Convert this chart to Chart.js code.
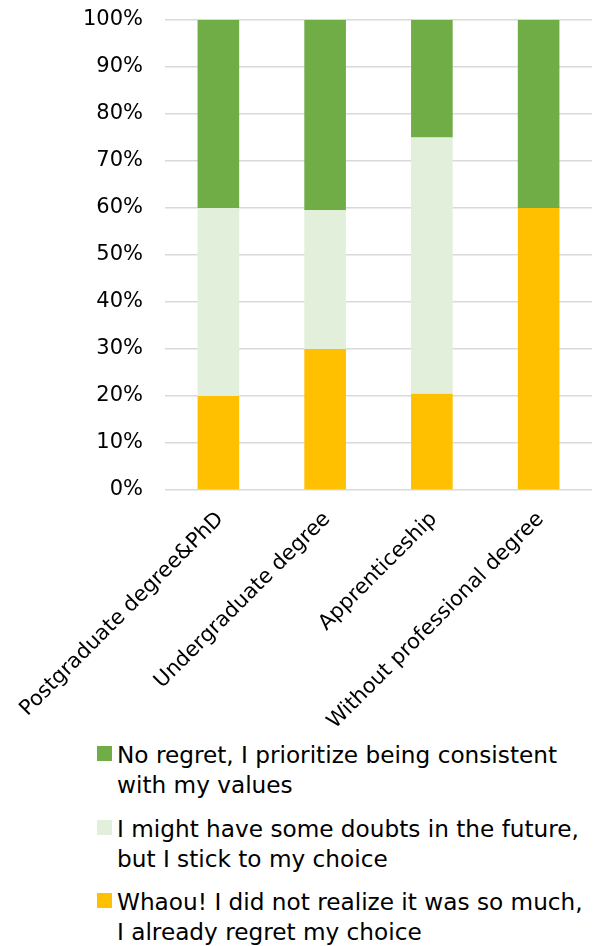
<!DOCTYPE html>
<html>
<head>
<meta charset="utf-8">
<script src="https://cdn.jsdelivr.net/npm/chart.js@4"></script>
<style>
  body { margin: 0; background: #fff; }
  #wrap { position: relative; width: 603px; height: 730px; }
  #legend {
    padding: 10px 0 0 97px;
    font-family: 'DejaVu Sans', sans-serif;
    font-size: 23.2px;
    line-height: 30px;
    color: #000;
  }
  .item { display: flex; align-items: flex-start; margin-bottom: 13.5px; white-space: nowrap; }
  .box { width: 15px; height: 15px; margin: 6px 5px 0 0; flex: none; }
</style>
</head>
<body>
<div id="wrap"><canvas id="regretChart"></canvas></div>
<div id="legend"></div>
<script>
    const categories = ['Postgraduate degree&PhD', 'Undergraduate degree', 'Apprenticeship', 'Without professional degree'];

    // stacked bottom to top
    const regretValues = [20, 30, 20.5, 60];
    const doubtValues = [40, 29.5, 54.5, 0];
    const noRegretValues = [40, 40.5, 25, 40];

    const regretLabel = ['Whaou! I did not realize it was so much,', 'I already regret my choice'];
    const doubtLabel = ['I might have some doubts in the future,', 'but I stick to my choice'];
    const noRegretLabel = ['No regret, I prioritize being consistent', 'with my values'];

    const yTicks = [0, 10, 20, 30, 40, 50, 60, 70, 80, 90, 100];

    const font = { family: 'DejaVu Sans', size: 21 };

    const datasets = [
        { label: regretLabel, data: regretValues, backgroundColor: '#ffc000' },
        { label: doubtLabel, data: doubtValues, backgroundColor: '#e2efda' },
        { label: noRegretLabel, data: noRegretValues, backgroundColor: '#70ad47' }
    ];

    const ctx = document.getElementById('regretChart').getContext('2d');
    const regretChart = new Chart(ctx, {
        type: 'bar',
        data: {
            labels: categories,
            datasets: datasets.map(d => ({
                label: d.label.join(' '),
                data: d.data,
                backgroundColor: d.backgroundColor,
                barPercentage: 0.39,
                categoryPercentage: 1,
                borderWidth: 0
            }))
        },
        options: {
            responsive: true,
            maintainAspectRatio: false,
            animation: false,
            layout: { padding: { top: 20, right: 11, left: 0, bottom: 0 } },
            scales: {
                x: {
                    stacked: true,
                    grid: { display: false },
                    border: { display: false },
                    afterFit: function(scale) {
                        // fixed axis band, rotated labels may run past the left edge
                        scale.height = 240;
                        scale.paddingLeft = 0;
                        scale.paddingRight = 0;
                    },
                    ticks: {
                        autoSkip: false,
                        maxRotation: 45,
                        minRotation: 45,
                        padding: 9,
                        labelOffset: 2,
                        color: '#000',
                        font: font
                    }
                },
                y: {
                    stacked: true,
                    min: 0,
                    max: 100,
                    afterFit: function(scale) {
                        scale.width = 165;
                        scale.paddingTop = 0;
                        scale.paddingBottom = 0;
                    },
                    afterBuildTicks: function(scale) {
                        scale.ticks = yTicks.map(v => ({ value: v }));
                    },
                    grid: { color: '#d9d9d9', lineWidth: 1.5, drawTicks: false },
                    border: { display: false },
                    ticks: {
                        padding: 22,
                        color: '#000',
                        font: font,
                        callback: function(value) {
                            return value + '%';
                        }
                    }
                }
            },
            plugins: {
                legend: { display: false },
                tooltip: { enabled: false }
            }
        }
    });

    // legend below the chart, top series first
    const legendEl = document.getElementById('legend');
    datasets.slice().reverse().forEach(d => {
        const item = document.createElement('div');
        item.className = 'item';
        const box = document.createElement('span');
        box.className = 'box';
        box.style.background = d.backgroundColor;
        const text = document.createElement('span');
        text.innerHTML = d.label.join('<br>');
        item.appendChild(box);
        item.appendChild(text);
        legendEl.appendChild(item);
    });
</script>
</body>
</html>
